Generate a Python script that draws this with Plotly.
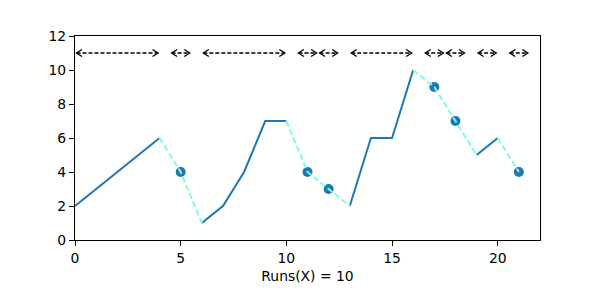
import plotly.graph_objects as go

# data
xs = list(range(22))
ys = [2, 3, 4, 5, 6, 4, 1, 2, 4, 7, 7, 4, 3, 2, 6, 6, 10, 9, 7, 5, 6, 4]
solid_runs = [(0, 4), (6, 10), (13, 16), (19, 20)]
dashed_runs = [(4, 6), (10, 13), (16, 19), (20, 21)]
point_x = [5, 11, 12, 17, 18, 21]
point_y = [4, 4, 3, 9, 7, 4]
arrow_spans = [(0, 4), (4.5, 5.5), (6, 10), (10.5, 11.5), (11.5, 12.5),
               (13, 16), (16.5, 17.5), (17.5, 18.5), (19, 20), (20.5, 21.5)]
arrow_y = 11
n_runs = 10

X_RANGE = [0, 22]
Y_RANGE = [0, 12]
W, H = 600, 300
ML, MR, MT, MB = 75, 60, 36, 60
xpx = (W - ML - MR) / (X_RANGE[1] - X_RANGE[0])
ypx = (H - MT - MB) / (Y_RANGE[1] - Y_RANGE[0])

BLUE = "#1f77b4"
AQUA = "#7fffd4"

fig = go.Figure()

# scatter markers
fig.add_trace(go.Scatter(x=point_x, y=point_y, mode="markers",
                         marker=dict(color=BLUE, size=10), showlegend=False))

def seg(run):
    a, b = run
    return xs[a:b + 1], ys[a:b + 1]

for r in solid_runs:
    sx, sy = seg(r)
    fig.add_trace(go.Scatter(x=sx, y=sy, mode="lines",
                             line=dict(color=BLUE, width=2), showlegend=False))
for r in dashed_runs:
    sx, sy = seg(r)
    fig.add_trace(go.Scatter(x=sx, y=sy, mode="lines",
                             line=dict(color=AQUA, width=2, dash="6px,3px"),
                             showlegend=False))

# arrows
shrink = 1.5 / xpx
hl = 5.5 / xpx
hw = 3.5 / ypx
lx, ly, hx, hy = [], [], [], []
for a, b in arrow_spans:
    s, e = a + shrink, b - shrink
    lx += [s, e, None]
    ly += [arrow_y, arrow_y, None]
    hx += [s + hl, s, s + hl, None, e - hl, e, e - hl, None]
    hy += [arrow_y + hw, arrow_y, arrow_y - hw, None,
           arrow_y + hw, arrow_y, arrow_y - hw, None]
fig.add_trace(go.Scatter(x=lx, y=ly, mode="lines",
                         line=dict(color="black", width=1.3, dash="4px,2px"),
                         showlegend=False))
fig.add_trace(go.Scatter(x=hx, y=hy, mode="lines",
                         line=dict(color="black", width=1.3),
                         showlegend=False))

axis_common = dict(showgrid=False, zeroline=False, showline=True, linecolor="black",
                   linewidth=1.1, mirror=True, ticks="outside", ticklen=5,
                   tickwidth=1.1, tickcolor="black",
                   tickfont=dict(family="DejaVu Sans", size=13.9, color="black"))
fig.update_xaxes(range=X_RANGE, tickvals=[0, 5, 10, 15, 20], **axis_common,
                 title=dict(text=f"Runs(X) = {n_runs}", standoff=6,
                            font=dict(family="DejaVu Sans", size=13.9, color="black")))
fig.update_yaxes(range=Y_RANGE, tickvals=[0, 2, 4, 6, 8, 10, 12], **axis_common)
fig.update_layout(width=W, height=H, margin=dict(l=ML, r=MR, t=MT, b=MB),
                  plot_bgcolor="white", paper_bgcolor="white")
fig.write_html("out.html")
